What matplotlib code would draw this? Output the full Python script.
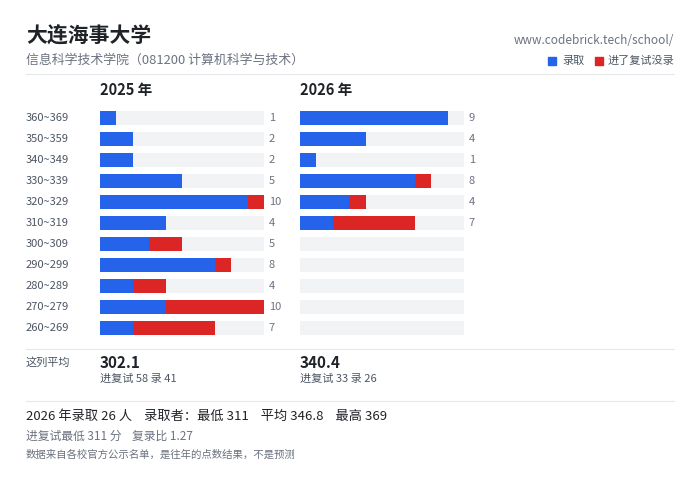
import matplotlib
matplotlib.use("Agg")
import matplotlib.pyplot as plt
from matplotlib.patches import Rectangle
from matplotlib.lines import Line2D

plt.rcParams['font.family'] = ['Noto Sans CJK SC', 'DejaVu Sans']

bins = ["360~369", "350~359", "340~349", "330~339", "320~329", "310~319",
        "300~309", "290~299", "280~289", "270~279", "260~269"]
adm_2025 = [1, 2, 2, 5, 9, 4, 3, 7, 2, 4, 2]
rej_2025 = [0, 0, 0, 0, 1, 0, 2, 1, 2, 6, 5]
adm_2026 = [9, 4, 1, 7, 3, 2, 0, 0, 0, 0, 0]
rej_2026 = [0, 0, 0, 1, 1, 5, 0, 0, 0, 0, 0]
years = ["2025 年", "2026 年"]
avgs = ["302.1", "340.4"]
subs = ["进复试 58 录 41", "进复试 33 录 26"]
xmax = 10

BLUE = "#2563eb"; RED = "#dc2626"; TRACK = "#f1f3f5"
W, H = 700, 483
fig = plt.figure(figsize=(7, 4.83), dpi=100)

def fx(x): return x / W
def fy(y): return 1 - y / H

def txt(x, y, s, **kw):
    fig.text(fx(x), fy(y), s, **kw)

txt(26, 36, "大连海事大学", fontsize=15, fontweight='bold', color="#1f2328", va='center')
txt(26, 60, "信息科学技术学院（081200 计算机科学与技术）", fontsize=9.3, color="#6b7280", va='center')
txt(674, 40, "www.codebrick.tech/school/", fontsize=8.5, color="#6b7280", va='center', ha='right')
fig.patches.append(Rectangle((fx(548), fy(65)), 8/W, 8/H, color=BLUE, transform=fig.transFigure))
txt(562, 61, "录取", fontsize=8, color="#4b5563", va='center')
fig.patches.append(Rectangle((fx(595), fy(65)), 8/W, 8/H, color=RED, transform=fig.transFigure))
txt(608, 61, "进了复试没录", fontsize=8, color="#4b5563", va='center')

for yy in [74, 349, 401]:
    fig.add_artist(Line2D([fx(26), fx(674)], [fy(yy), fy(yy)], color="#e5e7eb", lw=0.8, transform=fig.transFigure))

panels = [(100, adm_2025, rej_2025), (300, adm_2026, rej_2026)]
row_top, row_h = 107.5, 21
for i, (x0, adm, rej) in enumerate(panels):
    ax = fig.add_axes([fx(x0), fy(row_top + row_h * len(bins)), 164 / W, row_h * len(bins) / H])
    ax.set_xlim(0, xmax); ax.set_ylim(len(bins) - 0.5, -0.5)
    ax.axis('off')
    ys = range(len(bins))
    ax.barh(ys, [xmax] * len(bins), height=0.62, color=TRACK)
    ax.barh(ys, adm, height=0.62, color=BLUE)
    ax.barh(ys, rej, left=adm, height=0.62, color=RED)
    for j in ys:
        t = adm[j] + rej[j]
        if t > 0:
            ax.text(xmax + 0.3, j, str(t), fontsize=8, color="#6b7280", va='center', ha='left')
    txt(x0, 90, years[i], fontsize=10.5, fontweight='bold', color="#1f2328", va='center')
    txt(x0, 363, avgs[i], fontsize=11, fontweight='bold', color="#1f2328", va='center')
    txt(x0, 379, subs[i], fontsize=8, color="#4b5563", va='center')

for j, b in enumerate(bins):
    txt(26, row_top + row_h * (j + 0.5), b, fontsize=8, color="#4b5563", va='center')
txt(26, 362, "这列平均", fontsize=8, color="#4b5563", va='center')

txt(26, 416, "2026 年录取 26 人    录取者：最低 311    平均 346.8    最高 369", fontsize=9.5, color="#1f2328", va='center')
txt(26, 436, "进复试最低 311 分    复录比 1.27", fontsize=8.5, color="#6b7280", va='center')
txt(26, 455, "数据来自各校官方公示名单，是往年的点数结果，不是预测", fontsize=7.5, color="#6b7280", va='center')

fig.savefig("out.png", dpi=100, facecolor="white")
